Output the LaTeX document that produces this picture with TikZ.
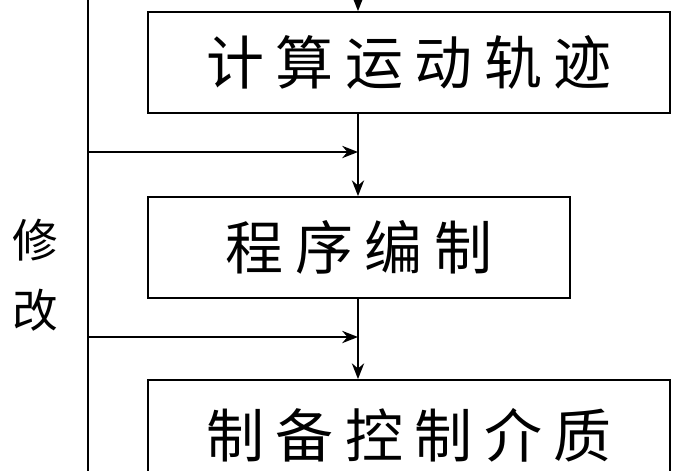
\documentclass[tikz,border=0pt]{standalone}
\usepackage{fontspec}
\newfontfamily\cjk{Noto Sans CJK SC}
\newfontfamily\cjkwide[LetterSpace=20]{Noto Sans CJK SC}
\usetikzlibrary{arrows.meta,positioning}
\begin{document}
\begin{tikzpicture}[>={Stealth[length=9pt,width=7pt]},line width=1pt,
  stepbox/.style={draw,font=\cjkwide\fontsize{33}{36}\selectfont,inner sep=0pt}]
 \useasboundingbox (0,0) rectangle (14,-9.4);
 \clip (0,0) rectangle (14,-9.4);
 \node[stepbox,minimum width=10.44cm,minimum height=2.02cm] (traj) at (8.18,-1.25) {计算运动轨迹};
 \node[stepbox,minimum width=8.44cm,minimum height=2.02cm] (prog) at (7.18,-4.95) {程序编制};
 \node[stepbox,minimum width=10.44cm,minimum height=2.2cm] (media) at (8.18,-8.7) {制备控制介质};
 \coordinate (top) at (7.16,0.1);
 \coordinate (fbtop) at (1.76,0.1);
 \coordinate (fbbot) at (1.76,-9.5);
 \coordinate (j1) at (7.16,-3.04);
 \coordinate (j2) at (7.16,-6.74);
 \node[font=\cjk\fontsize{26}{28}\selectfont] (xiu) at (0.7,-4.8) {修};
 \node[font=\cjk\fontsize{26}{28}\selectfont] (gai) at (0.7,-6.2) {改};
 % main flow
 \draw[->] (top) -- (top |- traj.north);
 \draw[->] (traj.south -| top) -- (prog.north -| top);
 \draw[->] (prog.south -| top) -- (media.north -| top);
 % feedback
 \draw (fbtop) -- (fbbot);
 \draw[->] (fbtop |- j1) -- (j1);
 \draw[->] (fbtop |- j2) -- (j2);
\end{tikzpicture}
\end{document}
